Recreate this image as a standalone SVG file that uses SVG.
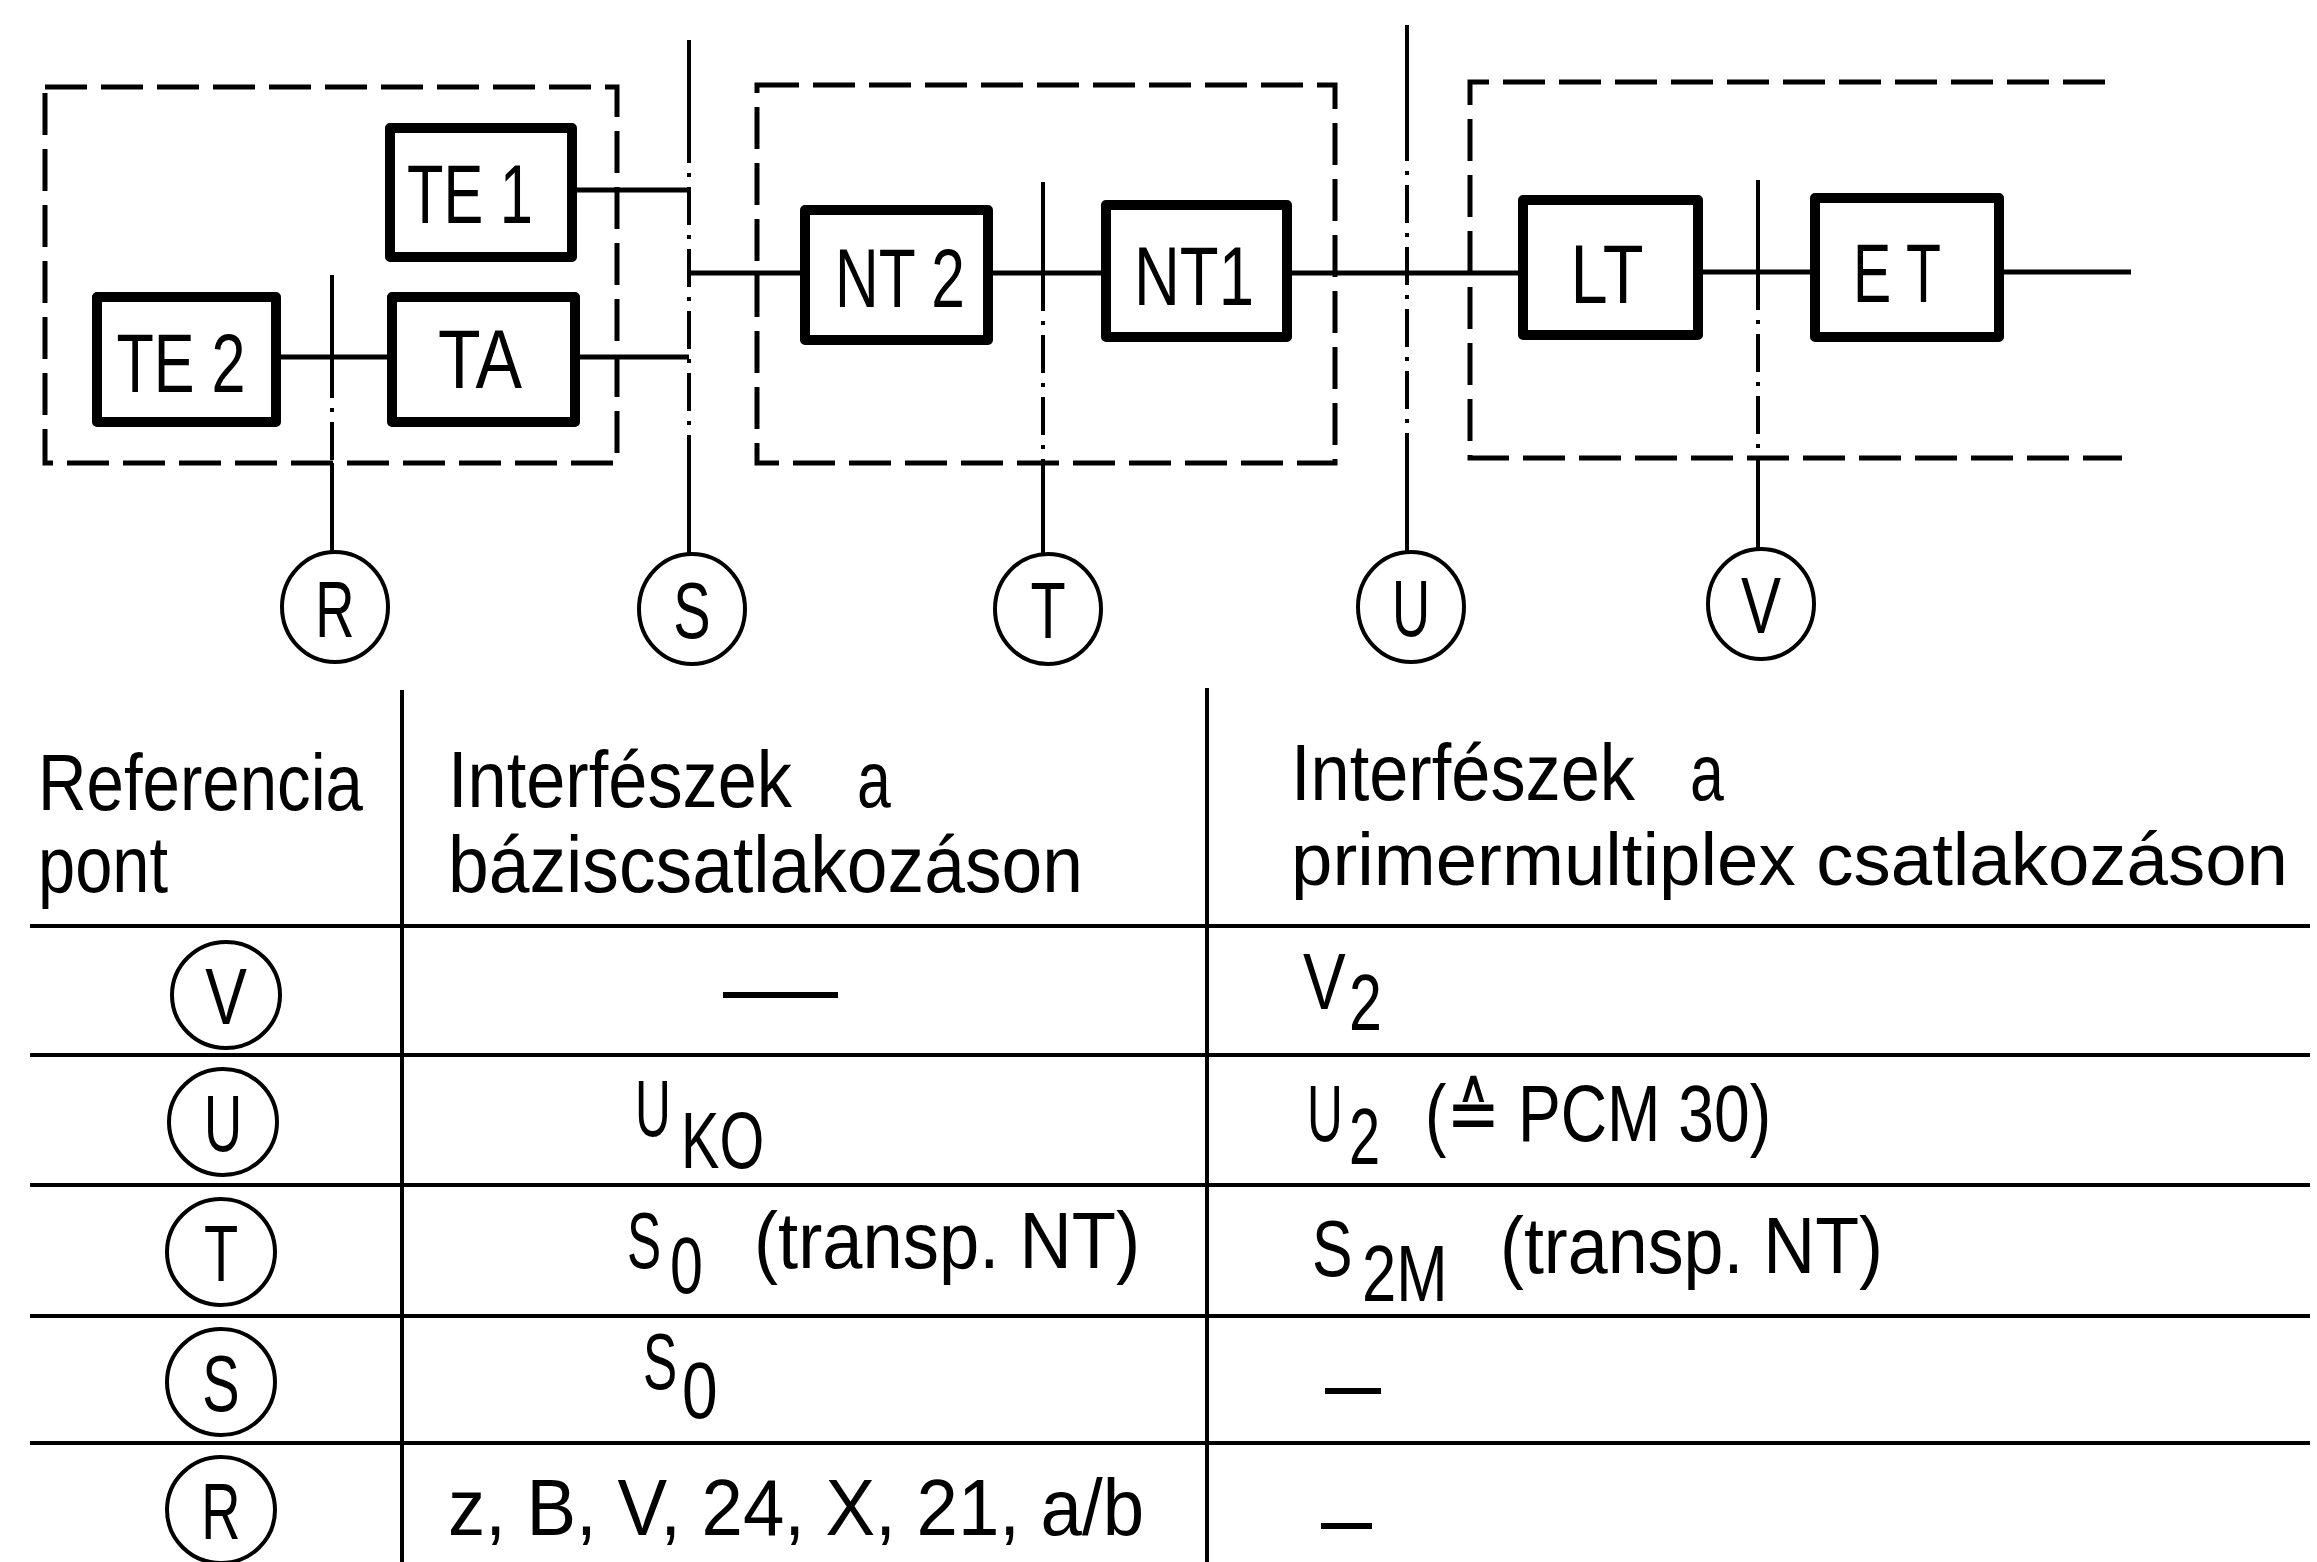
<svg xmlns="http://www.w3.org/2000/svg" width="2317" height="1562" viewBox="0 0 2317 1562">
<style>
.bg{fill:#fff}
.box{fill:#fff;stroke:#000;stroke-width:10;stroke-linejoin:round}
.lbl{font-family:"Liberation Sans","DejaVu Sans",Arial,sans-serif;font-size:84px;fill:#000;text-anchor:middle}
.t{font-family:"Liberation Sans","DejaVu Sans",Arial,sans-serif;font-size:80px;fill:#000}
.ct{font-family:"Liberation Sans","DejaVu Sans",Arial,sans-serif;font-size:80px;fill:#000;text-anchor:middle}
.dash{fill:none;stroke:#000;stroke-width:5;stroke-dasharray:42 14}
.wire{fill:none;stroke:#000;stroke-width:5}
.ref{fill:none;stroke:#000;stroke-width:4}
.refdd{fill:none;stroke:#000;stroke-width:4;stroke-dasharray:38 10 4 10}
.circ{fill:#fff;stroke:#000;stroke-width:4}
.grid{fill:none;stroke:#000;stroke-width:4}
.mdash{fill:none;stroke:#000;stroke-width:6}
</style>
<rect class="bg" x="0" y="0" width="2317" height="1562"/>

<g id="groups">
  <rect class="dash" x="45" y="87" width="572" height="376"/>
  <rect class="dash" x="757" y="85" width="578" height="378"/>
  <path class="dash" d="M2105,82 H1470 V458 H2122"/>
</g>

<g id="connectors">
  <path class="wire" d="M572,190 H689"/>
  <path class="wire" d="M575,357 H689"/>
  <path class="wire" d="M276,357 H392"/>
  <path class="wire" d="M689,273 H805"/>
  <path class="wire" d="M988,273 H1106"/>
  <path class="wire" d="M1287,273 H1523"/>
  <path class="wire" d="M1698,272 H1815"/>
  <path class="wire" d="M1999,272 H2131"/>
  <path class="ref" d="M332,275 V360 M332,463 V553"/>
  <path class="refdd" d="M332,360 V463"/>
  <path class="ref" d="M689,40 V125 M689,470 V555"/>
  <path class="refdd" d="M689,125 V470"/>
  <path class="ref" d="M1043,182 V273 M1043,463 V555"/>
  <path class="refdd" d="M1043,273 V463"/>
  <path class="ref" d="M1407,25 V123 M1407,470 V553"/>
  <path class="refdd" d="M1407,123 V470"/>
  <path class="ref" d="M1758,180 V272 M1758,458 V549"/>
  <path class="refdd" d="M1758,272 V458"/>
</g>

<g id="TE1"><rect class="box" x="390" y="128" width="182" height="129"/><text class="lbl" x="470" y="223" textLength="126" lengthAdjust="spacingAndGlyphs">TE 1</text></g>
<g id="TE2"><rect class="box" x="97" y="297" width="179" height="125"/><text class="lbl" x="181" y="392" textLength="129" lengthAdjust="spacingAndGlyphs">TE 2</text></g>
<g id="TA"><rect class="box" x="392" y="297" width="183" height="125"/><text class="lbl" x="480" y="388" textLength="84" lengthAdjust="spacingAndGlyphs">TA</text></g>
<g id="NT2"><rect class="box" x="805" y="210" width="183" height="130"/><text class="lbl" x="900" y="307" textLength="130" lengthAdjust="spacingAndGlyphs">NT 2</text></g>
<g id="NT1"><rect class="box" x="1106" y="205" width="181" height="132"/><text class="lbl" x="1194" y="305" textLength="120" lengthAdjust="spacingAndGlyphs">NT1</text></g>
<g id="LT"><rect class="box" x="1523" y="200" width="175" height="135"/><text class="lbl" x="1607" y="303" textLength="73" lengthAdjust="spacingAndGlyphs">LT</text></g>
<g id="ET"><rect class="box" x="1815" y="198" width="184" height="139"/><text class="lbl" x="1897" y="302" textLength="88" lengthAdjust="spacingAndGlyphs">E T</text></g>

<g id="refR"><ellipse class="circ" cx="335" cy="607" rx="53" ry="55"/><text class="ct" transform="translate(335,637) scale(0.68,1)">R</text></g>
<g id="refS"><ellipse class="circ" cx="692" cy="609" rx="53" ry="55"/><text class="ct" transform="translate(692,638) scale(0.7,1)">S</text></g>
<g id="refT"><ellipse class="circ" cx="1048" cy="609" rx="53" ry="55"/><text class="ct" transform="translate(1048,638) scale(0.72,1)">T</text></g>
<g id="refU"><ellipse class="circ" cx="1411" cy="607" rx="53" ry="55"/><text class="ct" transform="translate(1411,636) scale(0.66,1)">U</text></g>
<g id="refV"><ellipse class="circ" cx="1761" cy="604" rx="53" ry="55"/><text class="ct" transform="translate(1761,633) scale(0.75,1)">V</text></g>

<g id="table">
  <path class="grid" d="M402,690 V1562 M1207,688 V1562"/>
  <path class="grid" d="M30,926 H2310 M30,1055 H2310 M30,1185 H2310 M30,1316 H2310 M30,1443 H2310"/>
  <text class="t" x="38" y="810" textLength="325" lengthAdjust="spacingAndGlyphs">Referencia</text>
  <text class="t" x="38" y="892" textLength="130" lengthAdjust="spacingAndGlyphs">pont</text>
  <text class="t" x="448" y="807" textLength="344" lengthAdjust="spacingAndGlyphs">Interfészek</text>
  <text class="t" transform="translate(857,807) scale(0.76,1)">a</text>
  <text class="t" x="448" y="892" textLength="635" lengthAdjust="spacingAndGlyphs">báziscsatlakozáson</text>
  <text class="t" x="1291" y="800" textLength="344" lengthAdjust="spacingAndGlyphs">Interfészek</text>
  <text class="t" transform="translate(1690,800) scale(0.76,1)">a</text>
  <text class="t" x="1291" y="885" style="font-size:74px" textLength="997" lengthAdjust="spacingAndGlyphs">primermultiplex csatlakozáson</text>

  <g id="rowV"><ellipse class="circ" cx="226" cy="995" rx="54" ry="53"/><text class="ct" transform="translate(226,1024) scale(0.78,1)">V</text>
    <path class="mdash" d="M723,995 H838"/>
    <text class="t" transform="translate(1303,1009) scale(0.8,1)">V</text>
    <text class="t" transform="translate(1349,1030) scale(0.74,1)">2</text></g>
  <g id="rowU"><ellipse class="circ" cx="223" cy="1122" rx="54" ry="53"/><text class="ct" transform="translate(223,1151) scale(0.66,1)">U</text>
    <text class="t" transform="translate(635,1136) scale(0.62,1)">U</text>
    <text class="t" transform="translate(681,1168) scale(0.72,1)">KO</text>
    <text class="t" transform="translate(1307,1141) scale(0.62,1)">U</text>
    <text class="t" transform="translate(1349,1164) scale(0.7,1)">2</text>
    <text class="t" x="1425" y="1141" textLength="346" lengthAdjust="spacingAndGlyphs">(≙ PCM 30)</text></g>
  <g id="rowT"><ellipse class="circ" cx="221" cy="1252" rx="54" ry="53"/><text class="ct" transform="translate(221,1281) scale(0.7,1)">T</text>
    <text class="t" transform="translate(627,1268) scale(0.64,1)">S</text>
    <text class="t" transform="translate(670,1293) scale(0.74,1)">0</text>
    <text class="t" x="754" y="1268" textLength="386" lengthAdjust="spacingAndGlyphs">(transp. NT)</text>
    <text class="t" transform="translate(1312,1276) scale(0.76,1)">S</text>
    <text class="t" transform="translate(1362,1301) scale(0.77,1)">2M</text>
    <text class="t" x="1500" y="1273" textLength="383" lengthAdjust="spacingAndGlyphs">(transp. NT)</text></g>
  <g id="rowS"><ellipse class="circ" cx="221" cy="1382" rx="54" ry="53"/><text class="ct" transform="translate(221,1411) scale(0.7,1)">S</text>
    <text class="t" transform="translate(643,1389) scale(0.64,1)">S</text>
    <text class="t" transform="translate(682,1418) scale(0.8,1)">0</text>
    <path class="mdash" d="M1325,1391 H1381"/></g>
  <g id="rowR"><ellipse class="circ" cx="221" cy="1510" rx="54" ry="53"/><text class="ct" transform="translate(221,1539) scale(0.68,1)">R</text>
    <text class="t" x="448" y="1535" textLength="696" lengthAdjust="spacingAndGlyphs">z, B, V, 24, X, 21, a/b</text>
    <path class="mdash" d="M1321,1526 H1372"/></g>
</g>
</svg>
